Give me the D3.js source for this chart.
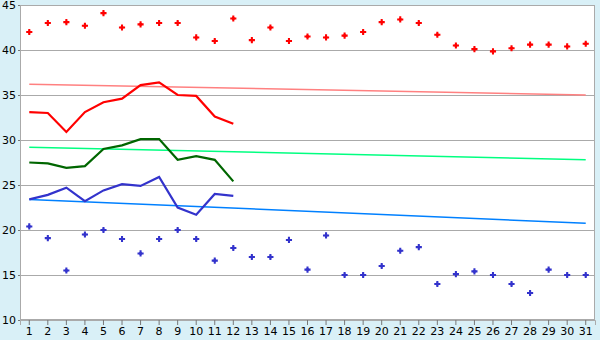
<!DOCTYPE html>
<html>
<head>
<meta charset="utf-8">
<script src="https://cdn.jsdelivr.net/npm/d3@7/dist/d3.min.js"></script>
<style>
  body { margin: 0; background: #d9f0f7; }
  svg { display: block; }
  text { font-family: "DejaVu Sans", Verdana, sans-serif; font-size: 11px; fill: #000; }
</style>
</head>
<body>
<svg id="chart" width="600" height="340"></svg>
<script>
// days of month
const days = d3.range(1, 32);
const yTicks = [10, 15, 20, 25, 30, 35, 40, 45];

// daily maximum / minimum points
const maxPoints = [42.0, 43.0, 43.1, 42.7, 44.1, 42.5, 42.85, 43.0, 43.0, 41.4,
  41.0, 43.5, 41.1, 42.5, 41.0, 41.5, 41.4, 41.6, 42.0, 43.1,
  43.4, 43.0, 41.7, 40.5, 40.1, 39.85, 40.2, 40.6, 40.6, 40.4, 40.7];
const minPoints = [20.4, 19.1, 15.5, 19.5, 20.0, 19.0, 17.4, 19.0, 20.0, 19.0,
  16.6, 18.0, 17.0, 17.0, 18.9, 15.6, 19.4, 15.0, 15.0, 16.0,
  17.7, 18.1, 14.0, 15.1, 15.4, 15.0, 14.0, 13.0, 15.6, 15.0, 15.0];

// lines for the first 12 days
const redLine = [33.1, 33.0, 30.9, 33.1, 34.2, 34.6, 36.1, 36.4, 35.0, 34.9, 32.6, 31.8];
const greenLine = [27.5, 27.4, 26.9, 27.1, 29.0, 29.4, 30.1, 30.1, 27.8, 28.2, 27.8, 25.4];
const blueLine = [23.4, 23.9, 24.7, 23.2, 24.4, 25.1, 24.9, 25.9, 22.5, 21.7, 24.0, 23.8];

// trend lines: value at day 1 and day 31
const redTrend = [36.2, 35.0];
const greenTrend = [29.2, 27.8];
const blueTrend = [23.4, 20.75];

const svg = d3.select("#chart");
const padding = { left: 20, right: 5, top: 5, bottom: 20 };
const width = 600 - padding.left - padding.right;
const height = 340 - padding.top - padding.bottom;

const x = d3.scaleBand().domain(days).range([0, width]);
const cx = d => x(d) + x.bandwidth() / 2;
const y = d3.scaleLinear().domain([10, 45]).range([height, 0]);

const g = svg.append("g").attr("transform", "translate(" + padding.left + "," + padding.top + ")");

g.append("rect").attr("width", width).attr("height", height).attr("fill", "#fff");

// grid
g.append("g").selectAll("line").data(yTicks.slice(1, -1)).enter().append("line")
  .attr("x1", 0).attr("x2", width)
  .attr("y1", d => Math.round(y(d)) + 0.5).attr("y2", d => Math.round(y(d)) + 0.5)
  .attr("stroke", "#aaa");

// frame
g.append("rect").attr("x", 0.5).attr("y", 0.5).attr("width", width - 1).attr("height", height - 1)
  .attr("fill", "none").attr("stroke", "#aaa");

// axes
const xAxis = g.append("g").attr("transform", "translate(0," + height + ")")
  .call(d3.axisBottom(x).tickSize(5).tickPadding(2));
const yAxis = g.append("g")
  .call(d3.axisLeft(y).tickValues(yTicks).tickSize(2).tickPadding(2));
[xAxis, yAxis].forEach(a => {
  a.select(".domain").attr("stroke", "#aaa");
  a.selectAll(".tick line").attr("stroke", "#777");
  a.selectAll("text").attr("font-size", 11).attr("font-family", "DejaVu Sans, Verdana, sans-serif").attr("fill", "#000");
});

// trend lines
const trends = [[redTrend, "#ff8080"], [greenTrend, "#00ff80"], [blueTrend, "#0080ff"]];
trends.forEach(([t, c]) => {
  g.append("line")
    .attr("x1", cx(days[0])).attr("x2", cx(days[days.length - 1]))
    .attr("y1", y(t[0])).attr("y2", y(t[1]))
    .attr("stroke", c).attr("stroke-width", 1.5);
});

// lines
const line = d3.line().x((d, i) => cx(days[i])).y(d => y(d));
[[redLine, "#ff0000"], [greenLine, "#006600"], [blueLine, "#3333cc"]].forEach(([s, c]) => {
  g.append("path").datum(s).attr("d", line)
    .attr("fill", "none").attr("stroke", c).attr("stroke-width", 2.2);
});

// plus-shaped markers
const cross = d3.symbol().type(d3.symbolCross).size(21);
const diamond = d3.symbol().type(d3.symbolDiamond2).size(12);
[[maxPoints, "#ff0000"], [minPoints, "#3333cc"]].forEach(([s, c]) => {
  const m = g.append("g").selectAll("g").data(s).enter().append("g")
    .attr("transform", (d, i) => "translate(" + cx(days[i]) + "," + y(d) + ")")
    .attr("fill", c);
  m.append("path").attr("d", cross);
  m.append("path").attr("d", diamond);
});
</script>
</body>
</html>
